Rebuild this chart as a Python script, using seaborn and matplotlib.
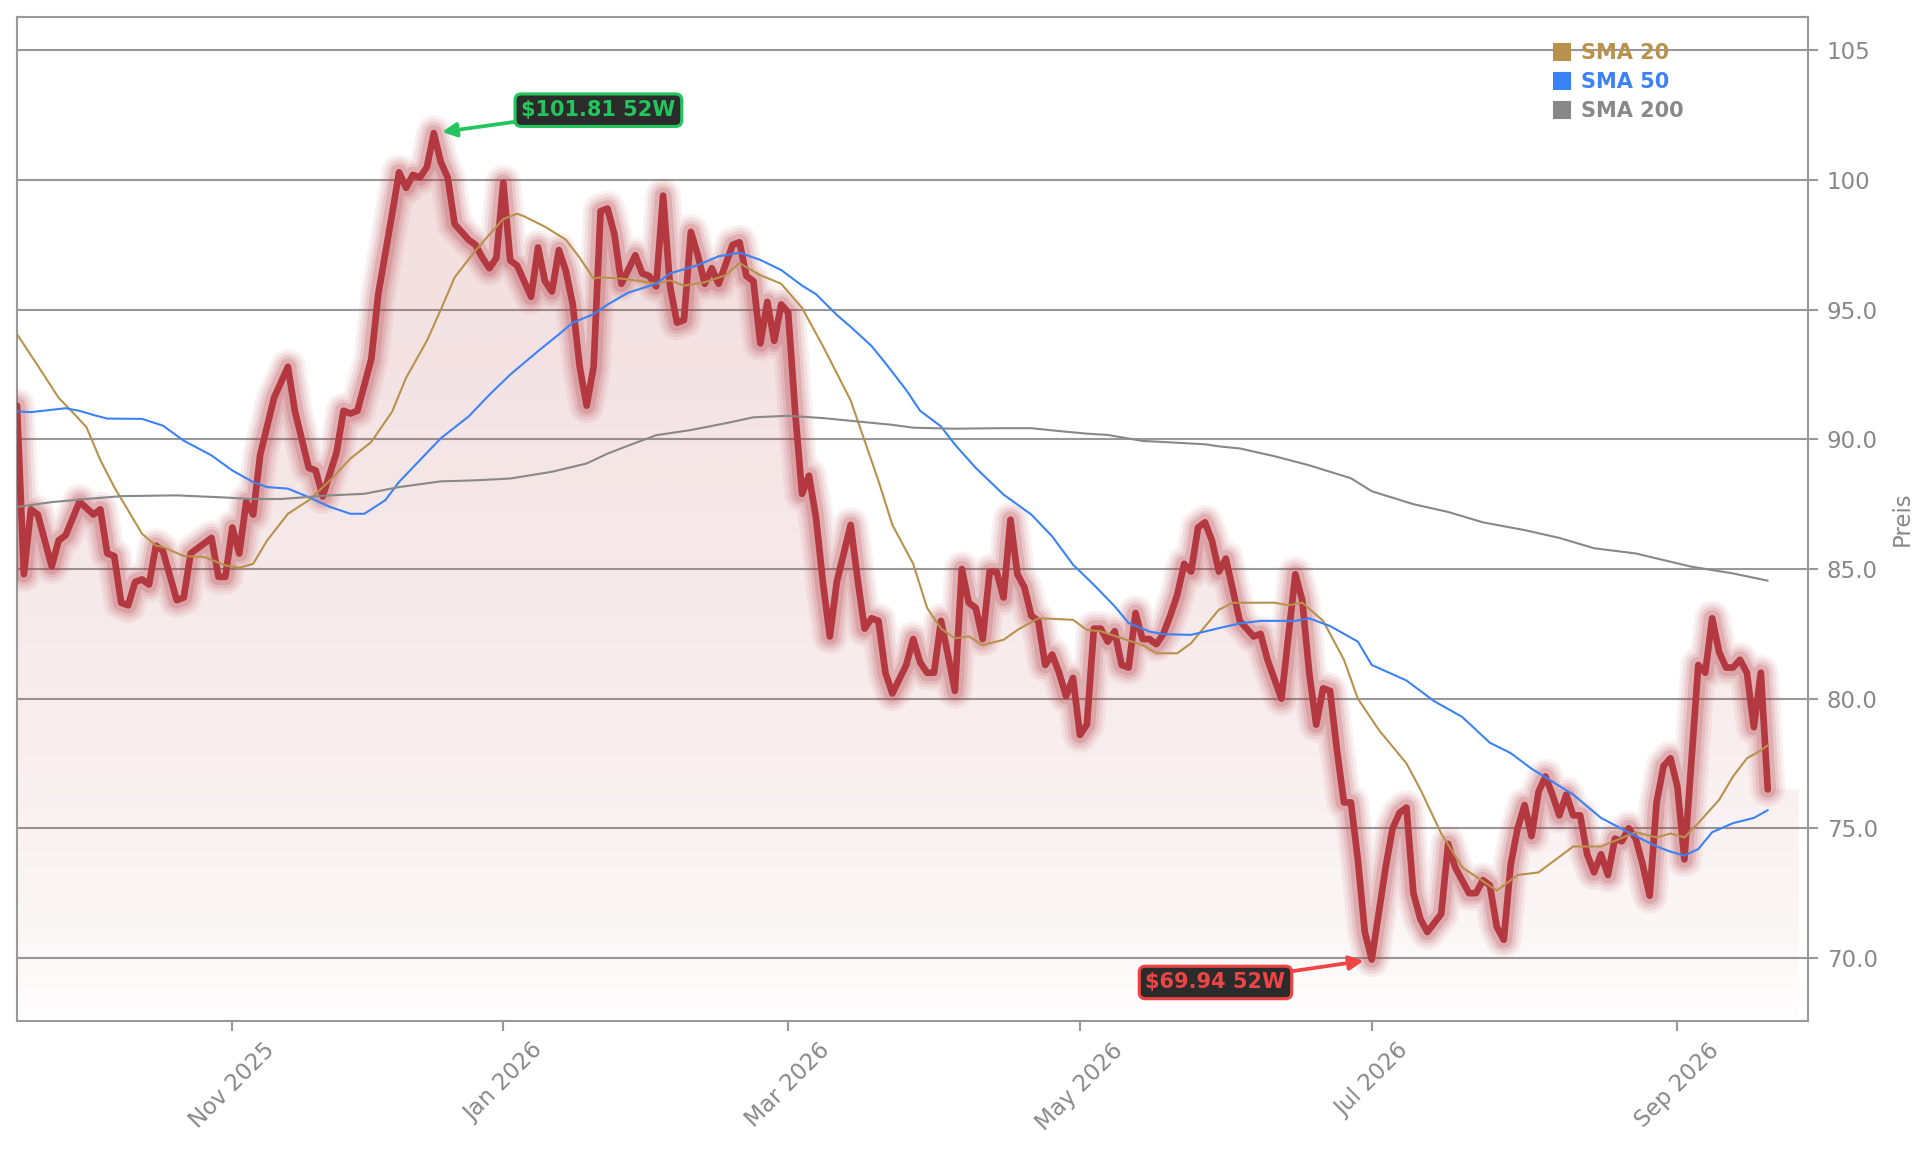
import numpy as np
import pandas as pd
import seaborn as sns
import matplotlib.pyplot as plt
from matplotlib.lines import Line2D
from matplotlib.patches import Polygon
from matplotlib.ticker import MultipleLocator, FuncFormatter
from matplotlib.colors import to_rgb

# trading calendar: Frankfurt holidays are not trading days
holidays = ["2025-10-03", "2025-12-24", "2025-12-25", "2025-12-26", "2025-12-31",
            "2026-01-01", "2026-04-03", "2026-04-06", "2026-05-01"]
tick_months = ["2025-11-01", "2026-01-01", "2026-03-01", "2026-05-01", "2026-07-01", "2026-09-01"]

# closing price, keyed by trading-day number (0 = 2025-09-18)
price_day = [0, 1, 2, 3, 5, 6, 7, 9, 11, 12,
             13, 14, 15, 16, 17, 18, 19, 20, 21, 23,
             24, 25, 26, 28, 29, 30, 31, 32, 33, 34,
             35, 37, 39, 40, 42, 43, 44, 46, 47, 48,
             49, 51, 52, 54, 55, 56, 57, 58, 59, 60,
             61, 62, 63, 64, 65, 66, 67, 68, 69, 70,
             71, 72, 73, 74, 75, 76, 77, 78, 79, 80,
             81, 82, 83, 84, 85, 86, 87, 89, 90, 91,
             92, 93, 94, 95, 96, 97, 98, 99, 100, 101,
             103, 104, 105, 106, 107, 108, 109, 110, 111, 112,
             113, 114, 115, 116, 117, 118, 120, 121, 122, 123,
             124, 125, 126, 128, 129, 130, 131, 132, 133, 134,
             135, 136, 137, 138, 139, 140, 141, 142, 143, 144,
             145, 146, 147, 148, 149, 150, 151, 152, 153, 154,
             155, 156, 157, 158, 159, 160, 161, 162, 163, 164,
             165, 166, 167, 168, 169, 170, 171, 172, 173, 174,
             176, 178, 179, 180, 182, 184, 185, 186, 187, 188,
             189, 190, 191, 192, 193, 194, 195, 197, 198, 199,
             200, 201, 202, 203, 205, 206, 207, 208, 209, 210,
             211, 212, 213, 214, 215, 216, 217, 218, 219, 220,
             221, 222, 223, 224, 225, 226, 227, 228, 229, 230,
             231, 232, 233, 234, 235, 236, 237, 238, 239, 240,
             242, 243, 244, 245, 246, 247, 248, 249, 250, 251,
             252]
price = [91.3, 84.8, 87.3, 87.1, 85.1, 86.1, 86.3, 87.6, 87.1, 87.3,
         85.6, 85.5, 83.7, 83.6, 84.5, 84.6, 84.4, 85.9, 85.7, 83.8,
         83.9, 85.6, 85.8, 86.2, 84.7, 84.7, 86.6, 85.6, 87.6, 87.1,
         89.4, 91.6, 92.8, 91.1, 88.9, 88.8, 87.8, 89.5, 91.1, 91.0,
         91.1, 93.1, 95.6, 98.7, 100.3, 99.7, 100.2, 100.1, 100.5, 101.81,
         100.7, 100.1, 98.3, 98.0, 97.7, 97.5, 97.0, 96.6, 97.0, 99.9,
         96.9, 96.7, 96.1, 95.5, 97.4, 96.1, 95.7, 97.3, 96.5, 95.2,
         92.8, 91.3, 92.8, 98.8, 98.9, 97.9, 96.0, 97.1, 96.4, 96.3,
         95.9, 99.4, 95.9, 94.5, 94.6, 98.0, 97.1, 96.0, 96.6, 96.0,
         97.5, 97.6, 96.3, 96.1, 93.7, 95.3, 93.8, 95.2, 94.9, 91.1,
         87.9, 88.6, 87.0, 84.5, 82.4, 84.5, 86.7, 84.6, 82.7, 83.1,
         83.0, 81.0, 80.2, 81.3, 82.3, 81.4, 81.0, 81.0, 83.0, 81.7,
         80.3, 85.0, 83.7, 83.5, 82.3, 84.9, 84.9, 83.9, 86.9, 84.8,
         84.3, 83.2, 83.0, 81.3, 81.7, 81.0, 80.1, 80.8, 78.6, 79.0,
         82.7, 82.7, 82.2, 82.6, 81.3, 81.2, 83.3, 82.3, 82.3, 82.1,
         82.5, 83.2, 84.0, 85.2, 84.9, 86.6, 86.8, 86.1, 84.9, 85.4,
         83.0, 82.4, 82.5, 81.5, 80.0, 84.8, 83.8, 81.0, 79.0, 80.4,
         80.3, 78.0, 76.0, 76.0, 73.8, 71.0, 69.94, 73.5, 75.0, 75.6,
         75.8, 72.5, 71.5, 71.0, 71.7, 74.4, 73.5, 73.0, 72.5, 72.5,
         73.0, 72.8, 71.2, 70.7, 73.6, 75.0, 75.9, 74.7, 76.4, 77.0,
         76.3, 75.5, 76.3, 75.5, 75.5, 74.0, 73.3, 74.0, 73.2, 74.6,
         74.5, 75.0, 74.6, 73.6, 72.4, 76.0, 77.4, 77.7, 76.6, 73.8,
         81.3, 81.0, 83.1, 81.8, 81.2, 81.2, 81.5, 81.0, 78.9, 81.0,
         76.5]

sma20_day = [0, 3, 6, 8, 10, 12, 14, 16, 18, 20, 21, 24, 27, 30, 32, 34, 36, 39, 42, 45,
             48, 51, 54, 56, 59, 61, 63, 66, 68, 70, 72, 73, 76, 79, 81, 83, 84, 87, 89, 92,
             94, 96, 99, 102, 104, 107, 110, 113, 116, 120, 124, 126, 129, 131, 133, 135, 137, 139, 142, 144,
             147, 149, 152, 154, 156, 159, 162, 164, 167, 169, 173, 175, 178, 181, 183, 185, 188, 191, 193, 196,
             200, 202, 205, 208, 213, 216, 219, 224, 228, 233, 236, 238, 240, 242, 245, 247, 249, 251, 252]
sma20 = [94.06, 92.84, 91.6, 91.05, 90.47, 89.2, 88.16, 87.26, 86.36, 85.9, 85.85, 85.5, 85.46, 85.14, 85.05, 85.2, 86.1, 87.13, 87.65, 88.4,
         89.26, 89.9, 91.07, 92.37, 93.8, 95.0, 96.25, 97.28, 97.9, 98.5, 98.7, 98.6, 98.2, 97.7, 97.0, 96.2, 96.25, 96.2, 96.13, 96.0,
         96.13, 95.93, 96.06, 96.33, 96.8, 96.33, 96.0, 95.07, 93.6, 91.5, 88.4, 86.7, 85.2, 83.5, 82.7, 82.33, 82.4, 82.07, 82.27, 82.65,
         83.1, 83.08, 83.04, 82.65, 82.6, 82.33, 82.07, 81.75, 81.75, 82.14, 83.43, 83.7, 83.7, 83.7, 83.6, 83.7, 83.0, 81.5, 80.0, 78.8,
         77.5, 76.5, 74.8, 73.5, 72.6, 73.2, 73.3, 74.3, 74.3, 74.85, 74.65, 74.8, 74.65, 75.2, 76.1, 77.0, 77.7, 78.0, 78.2]

sma50_day = [0, 2, 7, 9, 11, 13, 18, 21, 24, 28, 31, 34, 36, 39, 42, 45, 48, 50, 53, 55,
             58, 61, 65, 68, 71, 75, 78, 80, 83, 85, 88, 92, 94, 98, 101, 104, 107, 110, 113, 115,
             118, 120, 123, 125, 128, 130, 133, 135, 138, 142, 146, 149, 152, 155, 158, 160, 163, 165, 169, 171,
             173, 176, 179, 184, 186, 189, 193, 195, 200, 204, 208, 212, 215, 218, 224, 228, 233, 236, 238, 240,
             242, 244, 247, 250, 252]
sma50 = [91.08, 91.05, 91.2, 91.1, 90.94, 90.8, 90.79, 90.53, 89.95, 89.38, 88.8, 88.35, 88.16, 88.1, 87.77, 87.4, 87.13, 87.13, 87.65, 88.36,
         89.2, 90.04, 90.88, 91.72, 92.5, 93.4, 94.05, 94.5, 94.83, 95.2, 95.66, 96.0, 96.4, 96.72, 97.06, 97.2, 96.92, 96.53, 95.93, 95.6,
         94.8, 94.34, 93.6, 92.94, 91.9, 91.1, 90.5, 89.8, 88.9, 87.87, 87.1, 86.26, 85.17, 84.39, 83.56, 82.92, 82.59, 82.49, 82.46, 82.59,
         82.72, 82.9, 83.0, 83.0, 83.1, 82.8, 82.2, 81.3, 80.7, 79.9, 79.3, 78.3, 77.9, 77.3, 76.3, 75.4, 74.7, 74.3, 74.1, 73.95,
         74.2, 74.85, 75.2, 75.4, 75.7]

sma200_day = [0, 5, 10, 15, 23, 29, 34, 38, 42, 45, 50, 55, 61, 66, 71, 77, 82, 85, 88, 92,
              97, 102, 106, 111, 116, 121, 126, 129, 135, 141, 146, 150, 154, 157, 162, 167, 171, 173, 176, 181,
              186, 192, 195, 201, 206, 211, 217, 222, 227, 233, 241, 247, 252]
sma200 = [87.39, 87.58, 87.7, 87.81, 87.84, 87.77, 87.7, 87.7, 87.78, 87.84, 87.9, 88.16, 88.38, 88.42, 88.49, 88.75, 89.07, 89.45, 89.76, 90.16,
          90.36, 90.62, 90.85, 90.91, 90.82, 90.69, 90.56, 90.45, 90.41, 90.43, 90.43, 90.32, 90.22, 90.17, 89.94, 89.87, 89.81, 89.73, 89.65, 89.35,
          89.0, 88.5, 88.0, 87.5, 87.2, 86.8, 86.5, 86.2, 85.8, 85.6, 85.09, 84.83, 84.55]

sma_labels = ["SMA 20", "SMA 50", "SMA 200"]
sma_colors = ["#b8924c", "#3b82f6", "#888888"]
price_color = "#b3383f"
green = "#22c55e"
red = "#ef4444"
grey = "#999999"

assert len(price_day) == len(price)
assert len(sma20_day) == len(sma20) and len(sma50_day) == len(sma50) and len(sma200_day) == len(sma200)

days = pd.bdate_range("2025-09-18", "2026-09-18")
days = days[~days.isin(pd.to_datetime(holidays))]

sns.set_style("white")
plt.rcParams["font.family"] = ["DejaVu Sans"]

fig = plt.figure(figsize=(1929 / 150, 1153 / 150), dpi=150)
ax = fig.add_axes([0.0088, 0.1145, 0.9285, 0.8708])

ymin, ymax = 67.57, 106.29
px = np.array(price_day, dtype=float)
py = np.array(price)
fill_end = px[-1] + 4.5   # the shaded area runs a little past the last close

# gradient fill under the price, clipped to the area below the line
ramp = np.linspace(0, 1, 256).reshape(-1, 1)
rgba = np.zeros((256, 1, 4))
rgba[..., :3] = to_rgb(price_color)
rgba[..., 3] = 0.17 * ramp ** 0.6
img = ax.imshow(rgba, extent=[px[0], fill_end, ymin, py.max()], origin="lower",
                aspect="auto", zorder=1, interpolation="bilinear")
outline = list(zip(px, py)) + [(fill_end, py[-1]), (fill_end, ymin), (px[0], ymin)]
area = Polygon(outline, closed=True, transform=ax.transData, facecolor="none", edgecolor="none")
ax.add_patch(area)
img.set_clip_path(area)

# glow around the price line
for lw, a in [(17, 0.07), (14, 0.09), (11, 0.12), (8, 0.18)]:
    ax.plot(px, py, color=price_color, lw=lw, alpha=a, solid_joinstyle="round",
            solid_capstyle="round", zorder=3)
sns.lineplot(x=px, y=py, color=price_color, lw=3.2, ax=ax, zorder=4,
             solid_joinstyle="round", solid_capstyle="round")

for d, v, c in zip([sma20_day, sma50_day, sma200_day], [sma20, sma50, sma200], sma_colors):
    sns.lineplot(x=d, y=v, color=c, lw=1.0, ax=ax, zorder=5)

# 52 week high / low markers
hi = int(np.argmax(py))
lo = int(np.argmin(py))
box = dict(boxstyle="round,pad=0.3", fc="#2b2b2b", lw=1.5)
ax.annotate(f"\\${py[hi]:.2f} 52W", xy=(px[hi], py[hi]), xytext=(79, 11),
            textcoords="offset points", ha="center", va="center", color=green,
            fontsize=10, fontweight="bold", bbox={**box, "ec": green},
            arrowprops=dict(arrowstyle="-|>", color=green, lw=1.8, shrinkA=0, shrinkB=4,
                            mutation_scale=14), zorder=10)
ax.annotate(f"\\${py[lo]:.2f} 52W", xy=(px[lo], py[lo]), xytext=(-75, -11),
            textcoords="offset points", ha="center", va="center", color=red,
            fontsize=10, fontweight="bold", bbox={**box, "ec": red},
            arrowprops=dict(arrowstyle="-|>", color=red, lw=1.8, shrinkA=0, shrinkB=4,
                            mutation_scale=14), zorder=10)

ax.set_xlim(0, px[-1] + 5.8)
ax.set_ylim(ymin, ymax)

tick_pos = [days.searchsorted(pd.Timestamp(m)) for m in tick_months]
tick_lab = [pd.Timestamp(m).strftime("%b %Y") for m in tick_months]
ax.set_xticks(tick_pos, tick_lab, rotation=45)
ax.yaxis.set_major_locator(MultipleLocator(5))
ax.yaxis.set_major_formatter(FuncFormatter(lambda v, _: f"{v:.0f}" if v >= 100 else f"{v:.1f}"))
ax.yaxis.tick_right()
ax.yaxis.set_label_position("right")
ax.set_ylabel("Preis", color="#888888", fontsize=11, labelpad=6)
ax.set_xlabel("")

ax.tick_params(axis="x", bottom=True, length=5, width=1, color=grey,
               labelcolor="#888888", labelsize=11)
ax.tick_params(axis="y", right=True, left=False, length=5, width=1, color=grey,
               labelcolor="#888888", labelsize=11, pad=4)

ax.yaxis.grid(True, color=grey, lw=1.0)
ax.xaxis.grid(False)
for s in ax.spines.values():
    s.set_visible(True)
    s.set_color(grey)
    s.set_linewidth(1.0)

handles = [Line2D([], [], ls="", marker="s", ms=8, color=c) for c in sma_colors]
leg = ax.legend(handles, sma_labels, loc="upper right", bbox_to_anchor=(0.935, 0.982),
                frameon=False, prop={"weight": "bold", "size": 10}, handletextpad=0.4,
                labelspacing=0.42, borderaxespad=0, handlelength=1.0)
for t, c in zip(leg.get_texts(), sma_colors):
    t.set_color(c)

fig.savefig("out.png", dpi=150)
